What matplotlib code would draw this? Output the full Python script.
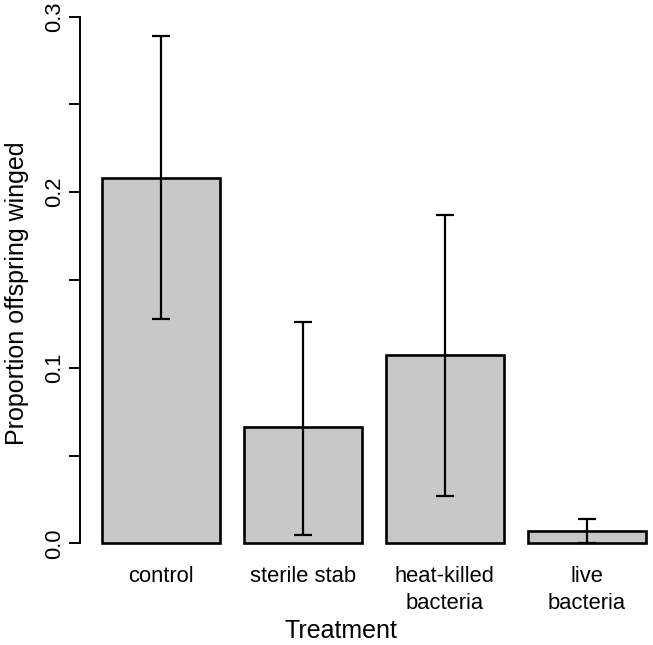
import numpy as np
import matplotlib
matplotlib.use('Agg')
import matplotlib.pyplot as plt

plt.rcParams['font.family'] = ['Liberation Sans', 'DejaVu Sans']

# values
treatments = ['control', 'sterile stab', 'heat-killed\nbacteria', 'live\nbacteria']
prop_winged = [0.208, 0.066, 0.107, 0.007]
ci_low = [0.128, 0.005, 0.027, 0.0]
ci_high = [0.289, 0.126, 0.187, 0.014]
y_major = [0.0, 0.1, 0.2, 0.3]
y_minor = [0.05, 0.15, 0.25]

W, H = 653, 645
fig = plt.figure(figsize=(W / 100, H / 100), dpi=100)
# plot region in pixels (R-style, runs off the right edge)
ax = fig.add_axes([80 / W, (H - 543.3) / H, 587.5 / W, 526.6 / H])

x = np.arange(len(treatments))
means = np.array(prop_winged)
yerr = [means - np.array(ci_low), np.array(ci_high) - means]

ax.bar(x, means, width=0.832, color='#c8c8c8', edgecolor='black',
       linewidth=1.9, clip_on=False, zorder=2)
ax.errorbar(x, means, yerr=yerr, fmt='none', ecolor='black',
            elinewidth=1.6, capsize=6.2, capthick=1.6, zorder=3, clip_on=False)

ax.set_xlim(-0.5702, 3.5702)
ax.set_ylim(0, 0.3)

for s in ['top', 'right', 'bottom']:
    ax.spines[s].set_visible(False)
ax.spines['left'].set_linewidth(1.4)
ax.spines['left'].set_bounds(0, 0.3)

ax.set_yticks(y_major)
ax.set_yticklabels(['0.0', '0.1', '0.2', '0.3'])
ax.set_yticks(y_minor, minor=True)
ax.tick_params(axis='y', which='both', length=7.9, width=1.4, pad=2.5,
               labelsize=15.8)
for lab in ax.get_yticklabels():
    lab.set_rotation(90)
    lab.set_va('center')

ax.set_xticks(x)
ax.set_xticklabels(treatments)
ax.tick_params(axis='x', length=0, pad=16, labelsize=15.8)
for lab in ax.get_xticklabels():
    lab.set_linespacing(1.4)

ax.set_ylabel('Proportion offspring winged', fontsize=18, va='center')
ax.yaxis.set_label_coords((17 - 80) / 587.5, (543.3 - 293) / 526.6)
ax.set_xlabel('Treatment', fontsize=18, va='center')
ax.xaxis.set_label_coords((341 - 80) / 587.5, (543.3 - 631) / 526.6)

fig.savefig('out.png', dpi=100)
